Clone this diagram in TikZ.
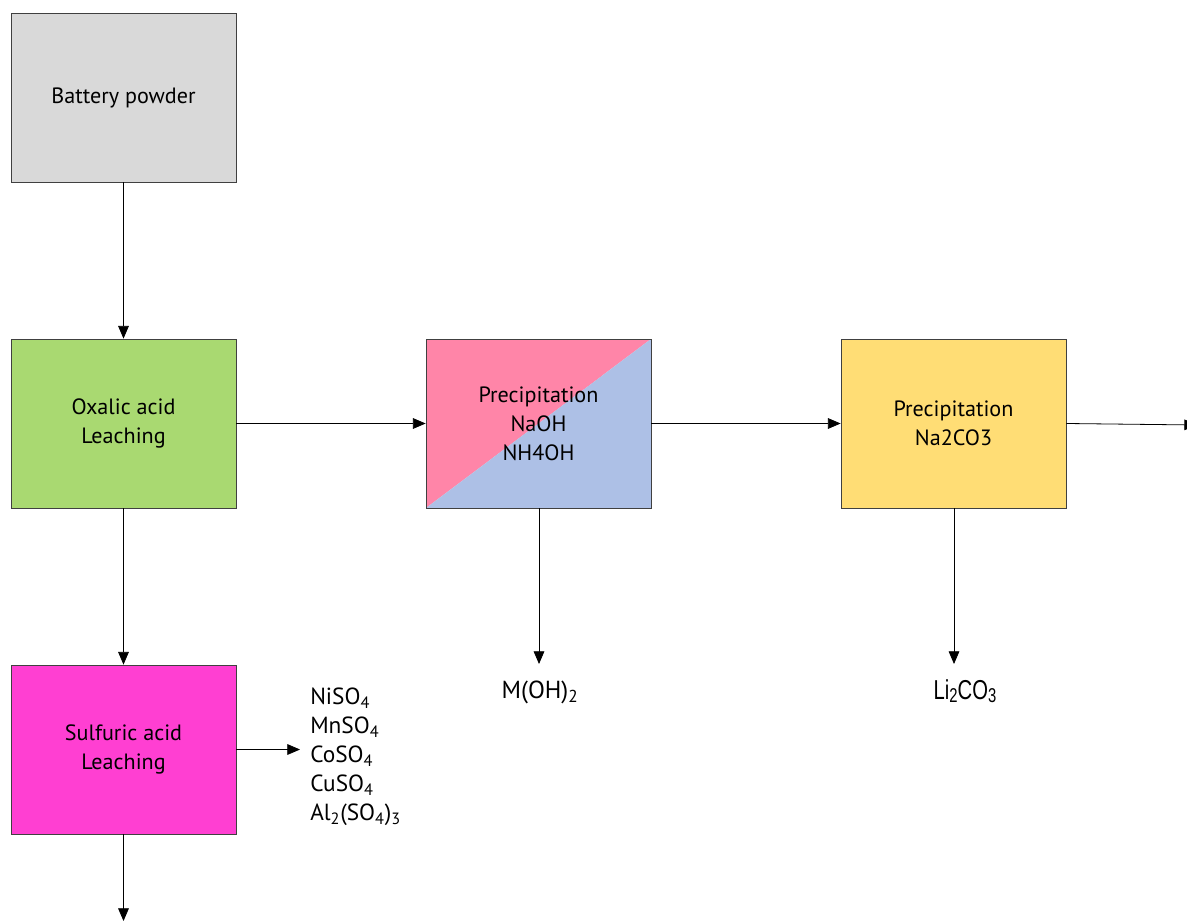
\documentclass[tikz,border=0pt]{standalone}
\usepackage{fontspec}
\usepackage{graphicx}
\setmainfont{PT Sans}
\newfontfamily\arialf{Liberation Sans}
\usetikzlibrary{arrows.meta}
\definecolor{cgray}{HTML}{D9D9D9}
\definecolor{cgreen}{HTML}{A9D971}
\definecolor{cmag}{HTML}{FF3FD2}
\definecolor{cpink}{HTML}{FF85A8}
\definecolor{cblue}{HTML}{ADC0E6}
\definecolor{cyel}{HTML}{FFDD75}
\definecolor{cline}{HTML}{404040}
\begin{document}
\begin{tikzpicture}[x=0.75pt,y=-0.75pt,
  procbox/.style={draw=cline,line width=0.6pt,minimum width=168.75pt,minimum height=126.75pt,align=center,font=\fontsize{16.6}{21.75}\selectfont,inner sep=0pt},
  conn/.style={draw=black,line width=0.6pt,-{Triangle[length=9.5pt,width=8pt]}},
  lbl/.style={font=\fontsize{17.5}{21.75}\selectfont,align=left,inner sep=0pt}]
\useasboundingbox (0,0) rectangle (1187,923);
\fill[white] (0,0) rectangle (1187,923);
% boxes
\node[procbox,fill=cgray] (bp) at (123.5,97.5) {Battery powder};
\node[procbox,fill=cgreen] (ox) at (123.5,423.5) {Oxalic acid\\Leaching};
\node[procbox,fill=cmag] (su) at (123.5,749.5) {Sulfuric acid\\Leaching};
\fill[cpink] (426,339) -- (651,339) -- (426,508) -- cycle;
\fill[cblue] (651,339) -- (651,508) -- (426,508) -- cycle;
\node[procbox] (pn) at (538.5,423.5) {Precipitation\\NaOH\\NH4OH};
\node[procbox,fill=cyel] (pc) at (953.5,423.5) {Precipitation\\Na2CO3};
% labels
\node[lbl,font=\fontsize{18.5}{22}\selectfont] (moh) at (540,692) {M(OH)\textsubscript{2}};
\node[lbl,font=\arialf\fontsize{20.5}{24}\selectfont] (li) at (965,691) {\scalebox{0.74}[1]{Li\raisebox{-2pt}{\fontsize{15}{15}\selectfont 2}CO\raisebox{-2pt}{\fontsize{15}{15}\selectfont 3}}};
\node[lbl,anchor=west] (list) at (310,757) {NiSO\textsubscript{4}\\MnSO\textsubscript{4}\\CoSO\textsubscript{4}\\CuSO\textsubscript{4}\\Al\textsubscript{2}(SO\textsubscript{4})\textsubscript{3}};
\coordinate (sulend) at (300,749.5);
\coordinate (botend) at (123.5,921);
\coordinate (rend) at (1197,425);
\coordinate (mtop) at (539,664);
\coordinate (ltop) at (954,664);
% connectors
\draw[conn] (bp) -- (ox);
\draw[conn] (ox) -- (su);
\draw[conn] (su.south) -- (botend);
\draw[conn] (su.east) -- (sulend);
\draw[conn] (ox) -- (pn);
\draw[conn] (pn) -- (pc);
\draw[conn] (pc.east) -- (rend);
\draw[conn] (pn.south -| mtop) -- (mtop);
\draw[conn] (pc.south -| ltop) -- (ltop);
\end{tikzpicture}
\end{document}
